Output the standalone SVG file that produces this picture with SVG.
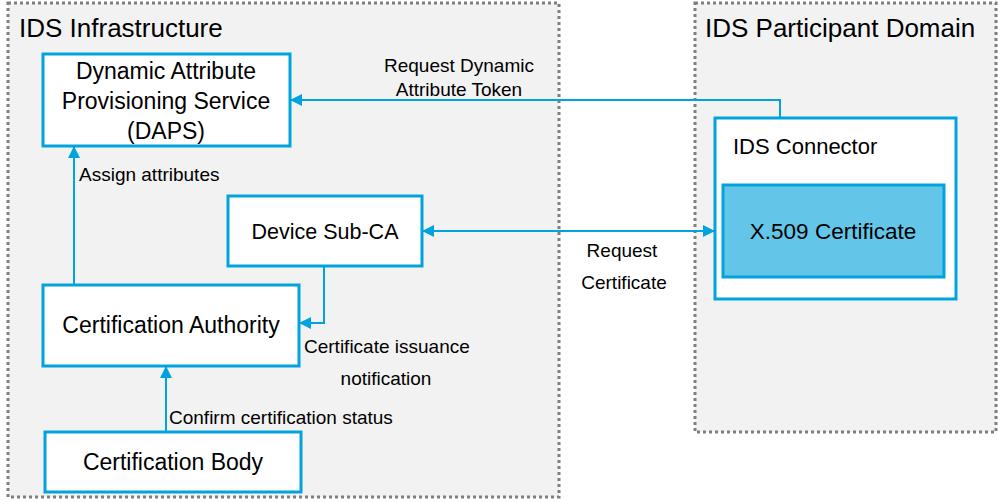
<svg xmlns="http://www.w3.org/2000/svg" width="998" height="502" viewBox="0 0 998 502">
<defs>
<style>
.zone{fill:#f2f2f2;stroke:#7f7f7f;stroke-width:3;stroke-dasharray:3 3}
.box{fill:#ffffff;stroke:#00a3dd;stroke-width:3}
.cert{fill:#63c6e8;stroke:#00a3dd;stroke-width:3}
.t{font-family:"Liberation Sans",Arial,sans-serif;fill:#000}
.title{font-size:26px}
.node{font-size:23px;text-anchor:middle}
.lbl{font-size:19px}
.conn{fill:none;stroke:#00a3dd;stroke-width:2}
</style>
<marker id="ah" viewBox="0 0 10 10" refX="10" refY="5" markerWidth="6" markerHeight="6" markerUnits="strokeWidth" orient="auto-start-reverse">
<path d="M0,0 L10,5 L0,10 z" fill="#00a3dd"/>
</marker>
</defs>
<rect width="998" height="502" fill="#ffffff"/>
<g id="zone-infra">
<rect class="zone" x="8" y="3" width="551" height="494"/>
<text class="t title" x="19" y="37">IDS Infrastructure</text>
</g>
<g id="zone-participant">
<rect class="zone" x="695" y="3" width="301" height="429"/>
<text class="t title" x="705" y="37">IDS Participant Domain</text>
</g>
<g id="daps">
<rect class="box" x="43" y="54" width="247" height="92"/>
<text class="t node" x="166" y="79">Dynamic Attribute</text>
<text class="t node" x="166" y="109">Provisioning Service</text>
<text class="t node" x="166" y="139">(DAPS)</text>
</g>
<g id="subca">
<rect class="box" x="228" y="196" width="194" height="70"/>
<text class="t node" x="325" y="239" style="font-size:21.5px">Device Sub-CA</text>
</g>
<g id="ca">
<rect class="box" x="43" y="285" width="256" height="81"/>
<text class="t node" x="171" y="333">Certification Authority</text>
</g>
<g id="cb">
<rect class="box" x="45" y="432" width="256" height="60"/>
<text class="t node" x="173" y="470">Certification Body</text>
</g>
<g id="connector">
<rect class="box" x="715" y="118" width="241" height="181"/>
<text class="t node" x="733" y="154" style="text-anchor:start;font-size:22px">IDS Connector</text>
</g>
<g id="x509">
<rect class="cert" x="723" y="185" width="221" height="92"/>
<text class="t node" x="833" y="239" style="font-size:22.5px">X.509 Certificate</text>
</g>
<g id="connectors">
<polyline class="conn" points="780,118 780,100 290,100" marker-end="url(#ah)"/>
<line class="conn" x1="422" y1="231" x2="715" y2="231" marker-start="url(#ah)" marker-end="url(#ah)"/>
<line class="conn" x1="74" y1="285" x2="74" y2="146" marker-end="url(#ah)"/>
<polyline class="conn" points="324,266 324,323 299,323" marker-end="url(#ah)"/>
<line class="conn" x1="166" y1="432" x2="166" y2="366" marker-end="url(#ah)"/>
<text class="t lbl" x="459" y="72" text-anchor="middle">Request Dynamic</text>
<text class="t lbl" x="459" y="96" text-anchor="middle">Attribute Token</text>
<text class="t lbl" x="622" y="257" text-anchor="middle">Request</text>
<text class="t lbl" x="624" y="289" text-anchor="middle">Certificate</text>
<text class="t lbl" x="79" y="181">Assign attributes</text>
<text class="t lbl" x="304" y="353">Certificate issuance</text>
<text class="t lbl" x="386" y="385" text-anchor="middle">notification</text>
<text class="t lbl" x="169" y="424">Confirm certification status</text>
</g>
</svg>
